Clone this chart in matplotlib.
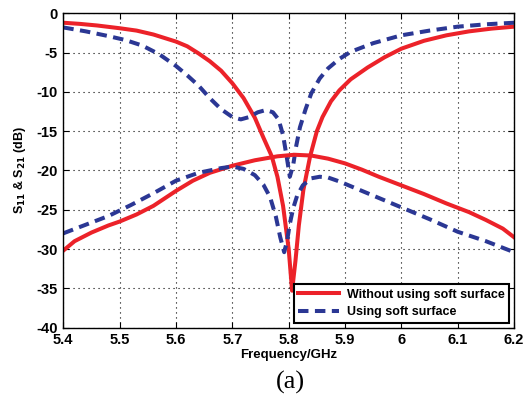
import numpy as np
import matplotlib
matplotlib.use('Agg')
import matplotlib.pyplot as plt

# Curves (frequency in GHz, level in dB)
f_s11_red = [5.40, 5.43, 5.46, 5.50, 5.53, 5.56, 5.60, 5.62, 5.64, 5.66, 5.68,
             5.70, 5.72, 5.74, 5.755, 5.77, 5.78, 5.79, 5.80, 5.806, 5.812,
             5.818, 5.826, 5.838, 5.85, 5.86, 5.875, 5.89, 5.91, 5.94, 5.97,
             6.00, 6.04, 6.08, 6.12, 6.16, 6.20]
s11_red = [-1.2, -1.35, -1.55, -1.9, -2.2, -2.7, -3.6, -4.2, -5.1, -6.1, -7.3,
           -8.9, -10.8, -13.3, -15.8, -18.2, -20.8, -24.5, -30.0, -35.3, -31.5,
           -27.0, -22.5, -18.2, -15.0, -13.2, -11.2, -9.8, -8.4, -6.9, -5.6,
           -4.5, -3.5, -2.8, -2.3, -1.95, -1.7]

f_s21_red = [5.40, 5.42, 5.45, 5.48, 5.50, 5.53, 5.56, 5.60, 5.63, 5.66, 5.70,
             5.74, 5.78, 5.81, 5.84, 5.87, 5.90, 5.93, 5.96, 6.00, 6.04, 6.08,
             6.12, 6.15, 6.18, 6.20]
s21_red = [-30.2, -29.0, -27.9, -27.0, -26.5, -25.6, -24.5, -22.6, -21.3, -20.3,
           -19.4, -18.7, -18.2, -18.0, -18.1, -18.5, -19.1, -19.9, -20.8, -21.9,
           -23.0, -24.2, -25.3, -26.3, -27.4, -28.5]

f_s11_blue = [5.40, 5.44, 5.48, 5.51, 5.54, 5.57, 5.60, 5.62, 5.64, 5.66, 5.68,
              5.70, 5.715, 5.73, 5.745, 5.76, 5.772, 5.782, 5.79, 5.797, 5.802,
              5.808, 5.813, 5.82, 5.83, 5.84, 5.855, 5.87, 5.89, 5.91, 5.95,
              6.00, 6.05, 6.10, 6.15, 6.20]
s11_blue = [-1.8, -2.3, -2.9, -3.4, -4.1, -5.2, -6.7, -7.9, -9.2, -10.8, -12.2,
            -13.2, -13.5, -13.2, -12.6, -12.3, -12.6, -13.5, -15.5, -18.5, -20.8,
            -19.3, -17.0, -14.5, -12.2, -10.2, -8.3, -7.0, -5.8, -4.9, -3.8,
            -2.8, -2.2, -1.7, -1.4, -1.2]

f_s21_blue = [5.40, 5.44, 5.48, 5.52, 5.56, 5.60, 5.64, 5.68, 5.70, 5.72, 5.74,
              5.755, 5.767, 5.777, 5.785, 5.792, 5.797, 5.802, 5.808, 5.815,
              5.825, 5.84, 5.855, 5.87, 5.89, 5.92, 5.96, 6.00, 6.05, 6.10,
              6.15, 6.20]
s21_blue = [-28.0, -26.9, -25.8, -24.4, -22.9, -21.3, -20.3, -19.7, -19.5, -19.8,
            -20.6, -21.8, -23.4, -25.8, -28.5, -30.4, -29.0, -26.8, -24.8, -23.2,
            -21.9, -21.0, -20.8, -20.9, -21.4, -22.3, -23.5, -24.7, -26.2, -27.8,
            -29.0, -30.4]

x_ticks = [5.4, 5.5, 5.6, 5.7, 5.8, 5.9, 6.0, 6.1, 6.2]
x_labels = ['5.4', '5.5', '5.6', '5.7', '5.8', '5.9', '6', '6.1', '6.2']
y_ticks = [0, -5, -10, -15, -20, -25, -30, -35, -40]

red = '#ec2229'
blue = '#2b3794'

plt.rcParams['font.family'] = ['Liberation Sans', 'DejaVu Sans']
plt.rcParams['axes.unicode_minus'] = False

fig = plt.figure(figsize=(5.23, 4.03), dpi=100)
ax = fig.add_axes([0.121, 0.187, 0.862, 0.780])

ax.plot(f_s11_red, s11_red, color=red, lw=2.9, solid_joinstyle='round',
        label='Without using soft surface')
ax.plot(f_s11_blue, s11_blue, color=blue, lw=2.9, linestyle=(0, (2.6, 1.6)),
        label='Using soft surface')
ax.plot(f_s21_red, s21_red, color=red, lw=2.9, solid_joinstyle='round')
ax.plot(f_s21_blue, s21_blue, color=blue, lw=2.9, linestyle=(0, (2.6, 1.6)))

ax.set_xlim(5.4, 6.2)
ax.set_ylim(-40, 0)
ax.set_xticks(x_ticks)
ax.set_xticklabels(x_labels)
ax.set_yticks(y_ticks)
ax.tick_params(direction='in', top=True, right=True, length=4, width=0.8,
               labelsize=10.5, pad=4)
for lab in ax.get_xticklabels() + ax.get_yticklabels():
    lab.set_fontweight('bold')
for s in ax.spines.values():
    s.set_linewidth(1.0)
ax.grid(True, color='black', linestyle=(0, (1, 3.5)), linewidth=0.8)

ax.set_xlabel('Frequency/GHz', fontsize=9.5, fontweight='bold', labelpad=1)
ax.set_ylabel('S$_{\\mathbf{11}}$ & S$_{\\mathbf{21}}$ (dB)', fontsize=9,
              fontweight='bold', labelpad=6)

leg = ax.legend(loc='lower right', prop={'weight': 'bold', 'size': 9},
                handlelength=3.3, borderpad=0.35, labelspacing=0.45,
                handletextpad=0.6, borderaxespad=0.4, fancybox=False,
                framealpha=1)
leg.get_frame().set_edgecolor('black')
leg.get_frame().set_linewidth(1.5)

fig.text(0.555, 0.05, '(a)', fontsize=19, family='Liberation Serif',
         ha='center', va='center')

fig.savefig('out.png', dpi=100)
